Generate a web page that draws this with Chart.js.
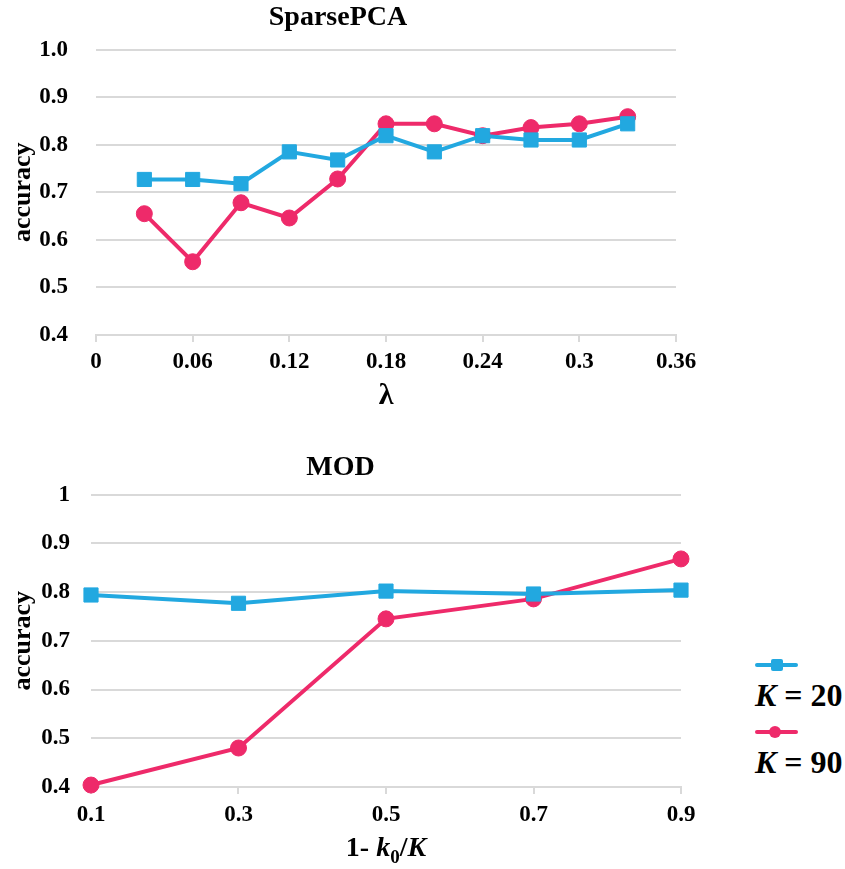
<!DOCTYPE html>
<html>
<head>
<meta charset="utf-8">
<script src="https://cdn.jsdelivr.net/npm/chart.js@4"></script>
<style>
  body { margin: 0; background: #fff; width: 845px; height: 869px; position: relative; overflow: hidden; font-family: "Liberation Serif", "Times New Roman", serif; }
  .box { position: absolute; }
  #top-box { left: 0; top: 0; width: 720px; height: 420px; }
  #mod-box { left: 0; top: 430px; width: 730px; height: 439px; }
  .xtitle { position: absolute; left: 286px; width: 200px; top: 829px; text-align: center; font-weight: bold; font-size: 28px; line-height: 36px; }
  .legend { position: absolute; left: 755px; font-weight: bold; font-size: 32px; }
  .legend .item { position: relative; height: 67px; }
  .legend .line { position: absolute; left: 0; width: 43px; height: 4px; border-radius: 2px; }
  .legend .mark { position: absolute; }
  .legend .txt { position: absolute; left: 0; white-space: nowrap; line-height: 36px; }
</style>
</head>
<body>
<div class="box" id="top-box"><canvas id="sparse-chart"></canvas></div>
<div class="box" id="mod-box"><canvas id="mod-chart"></canvas></div>
<div class="xtitle">1- <i>k</i><sub style="font-size:19px;">0</sub>/<i>K</i></div>
<div class="legend" style="top:645px;">
  <div class="item">
    <div class="line" style="top:18px;background:#22a8e0;"></div>
    <div class="mark" style="top:14px;left:16px;width:12px;height:12px;background:#22a8e0;border-radius:2px;"></div>
    <div class="txt" style="top:32px;"><i>K</i> = 20</div>
  </div>
  <div class="item">
    <div class="line" style="top:18px;background:#ee2a6a;"></div>
    <div class="mark" style="top:14px;left:14px;width:12px;height:12px;background:#ee2a6a;border-radius:50%;"></div>
    <div class="txt" style="top:32px;"><i>K</i> = 90</div>
  </div>
</div>
<script>
const lambdas = [0.03, 0.06, 0.09, 0.12, 0.15, 0.18, 0.21, 0.24, 0.27, 0.30, 0.33];
const sparseK20 = [0.727, 0.727, 0.718, 0.785, 0.768, 0.819, 0.785, 0.819, 0.810, 0.810, 0.844];
const sparseK90 = [0.655, 0.554, 0.678, 0.646, 0.728, 0.844, 0.844, 0.819, 0.836, 0.844, 0.859];

const ratios = [0.1, 0.3, 0.5, 0.7, 0.9];
const modK20 = [0.794, 0.777, 0.802, 0.796, 0.804];
const modK90 = [0.404, 0.480, 0.745, 0.786, 0.868];

const blue = '#22a8e0';
const pink = '#ee2a6a';
const gridColor = '#d9d9d9';
const serif = '"Liberation Serif", "Times New Roman", serif';

function pairs(xs, ys) {
    return xs.map((x, i) => ({ x: x, y: ys[i] }));
}

function series(label, xs, ys, color, style, radius) {
    return {
        label: label,
        data: pairs(xs, ys),
        borderColor: color,
        backgroundColor: color,
        borderWidth: 4,
        pointStyle: style,
        pointRadius: radius,
        pointHoverRadius: radius,
        pointBorderWidth: 1,
        clip: false,
        tension: 0
    };
}

function makeChart(id, opts) {
    const ctx = document.getElementById(id);
    return new Chart(ctx, {
        type: 'line',
        data: {
            datasets: [
                series('K = 20', opts.xs, opts.k20, blue, 'rect', 10),
                series('K = 90', opts.xs, opts.k90, pink, 'circle', 8)
            ]
        },
        options: {
            responsive: true,
            maintainAspectRatio: false,
            animation: false,
            layout: { padding: { left: 0, right: opts.padRight, top: 0, bottom: 0 } },
            plugins: {
                legend: { display: false },
                tooltip: { enabled: false },
                title: {
                    display: true,
                    text: opts.title,
                    color: '#000',
                    font: { family: serif, size: 28, weight: 'bold' },
                    padding: opts.titlePad
                }
            },
            scales: {
                x: {
                    type: 'linear',
                    min: opts.xMin,
                    max: opts.xMax,
                    afterFit: s => { s.height = opts.xHeight; },
                    ticks: {
                        stepSize: opts.xStep,
                        color: '#000',
                        padding: opts.xTickPad,
                        font: { family: serif, size: 23, weight: 'bold' },
                        callback: v => String(Number(v.toFixed(2)))
                    },
                    grid: { drawOnChartArea: false, color: gridColor, lineWidth: 2, tickLength: 7 },
                    border: { color: gridColor, width: 2 },
                    title: {
                        display: !!opts.xTitle,
                        text: opts.xTitle,
                        color: '#000',
                        font: { family: serif, size: 30, weight: 'bold' },
                        padding: { top: 0, bottom: 6 }
                    }
                },
                y: {
                    min: 0.4,
                    max: 1.0,
                    afterFit: s => { s.width = opts.yWidth; },
                    ticks: {
                        stepSize: 0.1,
                        color: '#000',
                        padding: opts.yTickPad,
                        font: { family: serif, size: 23, weight: 'bold' },
                        callback: opts.yLabel
                    },
                    grid: { color: gridColor, lineWidth: 2, drawTicks: false },
                    border: { display: false },
                    title: {
                        display: true,
                        text: 'accuracy',
                        color: '#000',
                        font: { family: serif, size: 26, weight: 'bold' },
                        padding: { top: 8, bottom: 0 }
                    }
                }
            }
        }
    });
}

makeChart('sparse-chart', {
    xs: lambdas, k20: sparseK20, k90: sparseK90,
    title: 'SparsePCA',
    titlePad: { top: 1, bottom: 15 },
    xMin: 0, xMax: 0.36, xStep: 0.06,
    xTitle: 'λ',
    xHeight: 85, xTickPad: 6,
    yWidth: 96, yTickPad: 28,
    padRight: 44,
    yLabel: v => v.toFixed(1)
});

makeChart('mod-chart', {
    xs: ratios, k20: modK20, k90: modK90,
    title: 'MOD',
    titlePad: { top: 21, bottom: 10 },
    xMin: 0.1, xMax: 0.9, xStep: 0.2,
    xTitle: '',
    xHeight: 82, xTickPad: 7,
    yWidth: 91, yTickPad: 21,
    padRight: 49,
    yLabel: v => (Math.abs(v - 1) < 1e-9 ? '1' : v.toFixed(1))
});
</script>
</body>
</html>
